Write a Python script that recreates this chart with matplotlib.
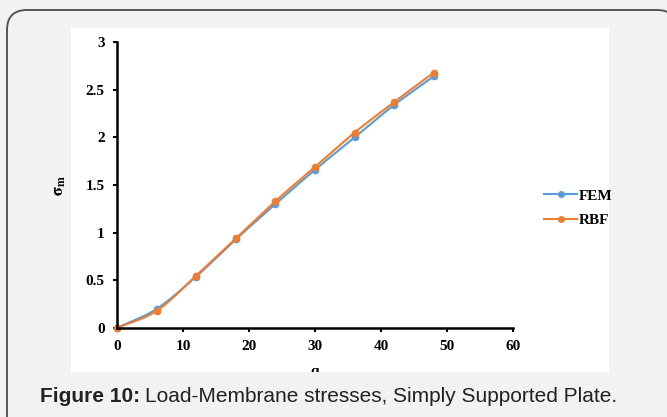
import numpy as np
import matplotlib
matplotlib.use("Agg")
import matplotlib.pyplot as plt
from matplotlib.patches import FancyBboxPatch, Rectangle
from matplotlib.lines import Line2D

# Load steps and membrane stresses
q = [0, 6, 12, 18, 24, 30, 36, 42, 48]
fem = [0.0, 0.20, 0.54, 0.93, 1.30, 1.66, 2.00, 2.34, 2.64]
rbf = [0.0, 0.18, 0.55, 0.94, 1.33, 1.69, 2.05, 2.37, 2.68]

x_ticks = [0, 10, 20, 30, 40, 50, 60]
y_ticks = [0, 0.5, 1, 1.5, 2, 2.5, 3]
y_tick_labels = ["0", "0.5", "1", "1.5", "2", "2.5", "3"]

FEM_COLOR = "#5b9bd5"
RBF_COLOR = "#ed7d31"
BG = "#f1f2f4"
W, H = 667, 417

plt.rcParams["mathtext.fontset"] = "stix"


def smooth(xs, ys, n=20):
    """Catmull-Rom curve through the given points (Excel-style smoothed line)."""
    xs = np.asarray(xs, float)
    ys = np.asarray(ys, float)
    px = np.concatenate([[2 * xs[0] - xs[1]], xs, [2 * xs[-1] - xs[-2]]])
    py = np.concatenate([[2 * ys[0] - ys[1]], ys, [2 * ys[-1] - ys[-2]]])
    ox, oy = [], []
    t = np.linspace(0, 1, n, endpoint=False)
    for i in range(1, len(px) - 2):
        for arr, out in ((px, ox), (py, oy)):
            p0, p1, p2, p3 = arr[i - 1], arr[i], arr[i + 1], arr[i + 2]
            out.extend(0.5 * ((2 * p1) + (-p0 + p2) * t
                              + (2 * p0 - 5 * p1 + 4 * p2 - p3) * t ** 2
                              + (-p0 + 3 * p1 - 3 * p2 + p3) * t ** 3))
    ox.append(xs[-1])
    oy.append(ys[-1])
    return np.array(ox), np.array(oy)


fig = plt.figure(figsize=(W / 100, H / 100), dpi=100)
fig.patch.set_facecolor(BG)

# Rounded frame
frame = FancyBboxPatch((7 / W, -20 / H), (W + 10 - 7) / W, (H - 10 + 20) / H,
                       boxstyle="round,pad=0,rounding_size=0.03",
                       transform=fig.transFigure, facecolor=BG,
                       edgecolor="#555555", linewidth=1.4, mutation_aspect=W / H,
                       zorder=-3)
fig.patches.append(frame)

# White chart panel
panel = Rectangle((71 / W, (H - 372) / H), (609 - 71) / W, (372 - 28) / H,
                  transform=fig.transFigure, facecolor="white", edgecolor="none",
                  zorder=-2)
fig.patches.append(panel)

ax = fig.add_axes([117 / W, (H - 328) / H, (513 - 117) / W, (328 - 42) / H])
ax.set_facecolor("none")
ax.set_zorder(0)

serif = "Liberation Serif"
for ys, col in ((fem, FEM_COLOR), (rbf, RBF_COLOR)):
    sx, sy = smooth(q, ys)
    ax.plot(sx, sy, color=col, lw=1.5, solid_capstyle="round", clip_on=False)
    ax.plot(q, ys, "o", color=col, ms=4.5, clip_on=False)

ax.set_xlim(0, 60)
ax.set_ylim(0, 3)
ax.set_xticks(x_ticks)
ax.set_yticks(y_ticks)
ax.set_yticklabels(y_tick_labels)
for s in ("top", "right"):
    ax.spines[s].set_visible(False)
for s in ("left", "bottom"):
    ax.spines[s].set_linewidth(1.8)
ax.tick_params(axis="both", direction="out", length=3, width=1.5, pad=6,
               labelsize=11)
for lbl in ax.get_xticklabels() + ax.get_yticklabels():
    lbl.set_fontfamily(serif)
    lbl.set_fontweight("bold")

ax.set_ylabel(r"$\mathbf{\sigma_m}$", fontsize=12, labelpad=2)
ax.yaxis.set_label_coords(-0.125, 0.5)
fig.text(117 / W + (513 - 117) / W * 0.5, (H - 378) / H, "q", fontsize=11,
         fontfamily=serif, fontweight="bold", ha="center", va="bottom",
         zorder=1)

handles = [Line2D([], [], color=FEM_COLOR, marker="o", ms=4, lw=1.5),
           Line2D([], [], color=RBF_COLOR, marker="o", ms=4, lw=1.5)]
leg = fig.legend(handles, ["FEM", "RBF"], loc="center left",
                 bbox_to_anchor=(530 / W, (H - 208) / H), frameon=False,
                 prop={"family": serif, "weight": "bold", "size": 11},
                 handlelength=2.2, handletextpad=0.1, labelspacing=0.7)

# Strip below the panel edge hides the lower part of the axis title
fig.patches.append(Rectangle((71 / W, 0), (609 - 71) / W, (H - 372) / H,
                             transform=fig.transFigure, facecolor=BG,
                             edgecolor="none", zorder=2))

cap_bold = fig.text(40 / W, (H - 396) / H, "Figure 10:", fontsize=15,
                    fontfamily="Liberation Sans", fontweight="bold",
                    color="#222222", va="center", ha="left", zorder=4)
renderer = fig.canvas.get_renderer()
bb = cap_bold.get_window_extent(renderer)
fig.text(bb.x1 / W + 5 / W, (H - 396) / H,
         "Load-Membrane stresses, Simply Supported Plate.",
         fontsize=15, fontfamily="Liberation Sans", color="#222222",
         va="center", ha="left", zorder=4)

fig.savefig("out.png", dpi=100, facecolor=fig.get_facecolor())
